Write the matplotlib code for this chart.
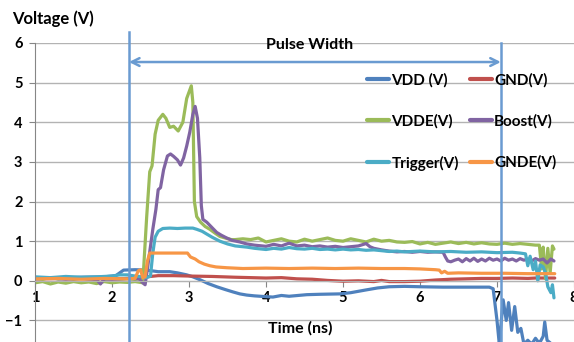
import matplotlib
matplotlib.use('Agg')
from matplotlib import pyplot as plt

plt.rcParams['font.family'] = ['Lato', 'DejaVu Sans']
plt.rcParams['font.weight'] = 'bold'

# ---- data (time in ns, volts) ----
t_vdd = [1.0, 1.3, 1.6, 1.9, 2.05, 2.1, 2.15, 2.3, 2.45, 2.6, 2.75, 2.85, 2.97, 3.05, 3.14,
         3.25, 3.36, 3.47, 3.57, 3.66, 3.75, 3.85, 4.0, 4.09, 4.2, 4.3, 4.53, 4.7, 4.96, 5.1,
         5.3, 5.45, 5.6, 5.8, 6.0, 6.3, 6.6, 6.9, 6.95, 7.0, 7.03, 7.08, 7.12, 7.15, 7.19,
         7.23, 7.27, 7.31, 7.35, 7.4, 7.45, 7.5, 7.55, 7.6, 7.62, 7.65, 7.7, 7.74]
v_vdd = [0.08, 0.07, 0.09, 0.1, 0.13, 0.2, 0.27, 0.28, 0.27, 0.23, 0.23, 0.2, 0.15, 0.1, 0.03,
         -0.07, -0.15, -0.22, -0.28, -0.33, -0.36, -0.38, -0.4, -0.41, -0.37, -0.39, -0.35, -0.34, -0.33, -0.3,
         -0.23, -0.18, -0.15, -0.14, -0.15, -0.16, -0.16, -0.16, -0.2, -1.0, -1.6, -0.48, -1.0, -0.55, -1.25,
         -0.65, -1.3, -1.2, -1.6, -1.5, -1.6, -1.45, -1.58, -1.4, -1.04, -1.5, -1.58, -1.6]

t_gnd = [1.0, 1.5, 2.0, 2.3, 2.45, 2.6, 2.8, 3.0, 3.3, 3.6, 4.0, 4.2, 4.4, 4.6, 4.8, 5.0,
         5.2, 5.4, 5.5, 5.6, 5.8, 6.0, 6.2, 6.4, 6.6, 6.8, 7.0, 7.2, 7.4, 7.5, 7.75]
v_gnd = [0.05, 0.06, 0.05, 0.06, 0.1, 0.13, 0.13, 0.12, 0.11, 0.09, 0.07, 0.08, 0.05, 0.04, 0.01, -0.01,
         0.0, -0.02, 0.01, -0.02, -0.02, -0.01, 0.02, 0.04, 0.05, 0.06, 0.06, 0.07, 0.06, 0.07, 0.07]

t_vdde = [1.0, 1.1, 1.2, 1.3, 1.4, 1.5, 1.6, 1.7, 1.8, 1.9, 2.0, 2.1, 2.2, 2.3, 2.4, 2.45,
          2.49, 2.52, 2.56, 2.6, 2.66, 2.7, 2.75, 2.8, 2.86, 2.92, 2.97, 3.03, 3.05, 3.07, 3.1,
          3.15, 3.21, 3.27, 3.34, 3.4, 3.47, 3.55, 3.6, 3.7, 3.8, 3.9, 4.0, 4.1, 4.2, 4.3,
          4.4, 4.5, 4.6, 4.7, 4.8, 4.9, 5.0, 5.1, 5.2, 5.3, 5.4, 5.5, 5.6, 5.7, 5.8, 5.9,
          6.0, 6.1, 6.2, 6.3, 6.4, 6.5, 6.6, 6.7, 6.8, 6.9, 7.0, 7.1, 7.2, 7.3, 7.4, 7.5,
          7.55, 7.58, 7.6, 7.63, 7.66, 7.69, 7.72, 7.74]
v_vdde = [-0.05, -0.02, -0.08, -0.03, -0.06, -0.02, -0.05, -0.03, -0.07, -0.02, -0.05, -0.03, -0.04, -0.02, -0.05, 1.6,
          2.75, 2.9, 3.7, 4.05, 4.2, 4.1, 3.87, 3.9, 3.78, 4.0, 4.6, 4.92, 4.5, 2.0, 1.62,
          1.48, 1.37, 1.3, 1.2, 1.12, 1.08, 1.04, 1.04, 1.06, 1.04, 1.08, 0.98, 1.02, 1.06, 1.0,
          0.98, 1.05, 1.0, 1.04, 1.08, 1.02, 1.0, 1.06, 1.02, 0.98, 1.05, 1.0, 1.02, 0.98, 0.97, 0.99,
          0.93, 0.97, 0.92, 0.95, 0.98, 0.94, 0.97, 0.93, 0.96, 0.93, 0.92, 0.95, 0.92, 0.94, 0.92, 0.9,
          0.9, 0.3, 0.85, 0.05, 0.82, 0.2, 0.88, 0.8]

t_boost = [1.0, 1.2, 1.4, 1.6, 1.8, 1.85, 1.9, 2.0, 2.2, 2.35, 2.4, 2.43, 2.46, 2.49, 2.53, 2.57,
           2.6, 2.63, 2.67, 2.72, 2.76, 2.8, 2.85, 2.89, 2.93, 2.97, 3.01, 3.05, 3.08, 3.11, 3.14,
           3.16, 3.18, 3.23, 3.27, 3.32, 3.36, 3.42, 3.49, 3.56, 3.66, 3.75, 3.85, 3.95, 4.0, 4.1,
           4.2, 4.3, 4.4, 4.5, 4.6, 4.7, 4.8, 4.9, 5.0, 5.1, 5.2, 5.3, 5.35, 5.4, 5.5, 5.6,
           5.7, 5.8, 5.9, 6.0, 6.1, 6.2, 6.3, 6.33, 6.36, 6.4, 6.45, 6.5, 6.55, 6.6, 6.65, 6.7,
           6.75, 6.8, 6.85, 6.9, 6.95, 7.0, 7.05, 7.1, 7.15, 7.2, 7.25, 7.3, 7.35, 7.4, 7.45,
           7.5, 7.55, 7.6, 7.65, 7.7, 7.74]
v_boost = [0.05, 0.07, 0.04, 0.06, 0.03, -0.08, 0.05, 0.04, 0.06, 0.05, -0.05, -0.1, 0.3, 0.73, 1.3, 1.8,
           2.3, 2.35, 2.8, 3.15, 3.2, 3.14, 3.05, 2.92, 3.1, 3.4, 3.75, 4.2, 4.4, 4.1, 3.1,
           1.9, 1.55, 1.48, 1.4, 1.3, 1.22, 1.15, 1.08, 1.02, 0.98, 0.93, 0.9, 0.88, 0.87, 0.92,
           0.88, 0.95, 0.88, 0.9, 0.86, 0.88, 0.85, 0.87, 0.84, 0.86, 0.88, 0.94, 0.86, 0.82, 0.78, 0.75,
           0.73, 0.74, 0.72, 0.74, 0.72, 0.73, 0.72, 0.6, 0.5, 0.48, 0.52, 0.55, 0.48, 0.56, 0.5, 0.57,
           0.49, 0.55, 0.5, 0.57, 0.52, 0.55, 0.5, 0.57, 0.52, 0.55, 0.5, 0.56, 0.52, 0.55, 0.5,
           0.56, 0.52, 0.55, 0.45, 0.55, 0.5]

t_trig = [1.0, 1.2, 1.4, 1.6, 1.8, 2.0, 2.1, 2.2, 2.3, 2.4, 2.45, 2.5, 2.53, 2.56, 2.6, 2.66,
          2.75, 2.85, 2.95, 3.05, 3.1, 3.17, 3.23, 3.3, 3.4, 3.5, 3.6, 3.75, 3.85, 4.0, 4.1,
          4.2, 4.3, 4.4, 4.5, 4.6, 4.7, 4.8, 4.9, 5.0, 5.1, 5.2, 5.3, 5.4, 5.5, 5.6, 5.7,
          5.8, 6.0, 6.2, 6.4, 6.6, 6.8, 7.0, 7.2, 7.3, 7.37, 7.4, 7.43, 7.47, 7.5, 7.53, 7.56,
          7.6, 7.63, 7.66, 7.7, 7.72, 7.74]
v_trig = [0.1, 0.08, 0.11, 0.09, 0.1, 0.12, 0.15, 0.15, 0.12, 0.1, 0.08, 0.12, 0.7, 1.1, 1.25, 1.32,
          1.33, 1.32, 1.33, 1.33, 1.3, 1.25, 1.18, 1.1, 1.0, 0.93, 0.88, 0.85, 0.82, 0.79, 0.82,
          0.8, 0.84, 0.81, 0.8, 0.82, 0.79, 0.8, 0.78, 0.8, 0.78, 0.79, 0.77, 0.78, 0.76, 0.74, 0.75,
          0.73, 0.75, 0.73, 0.74, 0.72, 0.73, 0.71, 0.72, 0.7, 0.68, 0.38, 0.62, 0.28, 0.5, 0.0, 0.4,
          0.35, 0.2, -0.15, -0.3, -0.1, -0.43]

t_gnde = [1.0, 1.3, 1.6, 1.9, 2.2, 2.3, 2.34, 2.37, 2.4, 2.43, 2.46, 2.49, 2.6, 2.7, 2.8, 2.9,
          2.98, 3.02, 3.08, 3.13, 3.2, 3.27, 3.35, 3.49, 3.7, 4.0, 4.3, 4.6, 4.9, 5.2, 5.5,
          5.8, 6.0, 6.2, 6.25, 6.28, 6.32, 6.36, 6.5, 6.8, 7.1, 7.4, 7.75]
v_gnde = [0.05, 0.06, 0.04, 0.06, 0.05, 0.06, 0.25, 0.28, 0.08, 0.1, 0.5, 0.7, 0.7, 0.7, 0.7, 0.7,
          0.7, 0.6, 0.55, 0.48, 0.42, 0.38, 0.35, 0.33, 0.31, 0.32, 0.31, 0.32, 0.31, 0.32, 0.31,
          0.31, 0.3, 0.28, 0.27, 0.2, 0.24, 0.19, 0.2, 0.19, 0.19, 0.18, 0.18]

series = [
    ('VDD (V)', t_vdd, v_vdd, '#4F81BD'),
    ('GND(V)', t_gnd, v_gnd, '#C0504D'),
    ('VDDE(V)', t_vdde, v_vdde, '#9BBB59'),
    ('Boost(V)', t_boost, v_boost, '#8064A2'),
    ('Trigger(V)', t_trig, v_trig, '#4BACC6'),
    ('GNDE(V)', t_gnde, v_gnde, '#F79646'),
]

pulse_start, pulse_end = 2.22, 7.05
yticks = [-1, 0, 1, 2, 3, 4, 5, 6]
xticks = [1, 2, 3, 4, 5, 6, 7, 8]

fig = plt.figure(figsize=(5.74, 3.42), dpi=100)
ax = fig.add_axes([35/574, 0, 539/574, 299/342])

lines = []
for lbl, t, v, c in series:
    p = ax.plot(t, v, color=c, lw=2.3, label=lbl, solid_capstyle='round', solid_joinstyle='round')
    lines.append(p[0])

ax.set_xlim(1, 8)
ax.set_ylim(-1.544, 6)
ax.set_yticks(yticks)
ax.set_xticks(xticks)
ax.yaxis.grid(True, color='#b3b3b3', lw=1)
ax.set_axisbelow(True)

for s in ['top', 'right']:
    ax.spines[s].set_visible(False)
ax.spines['left'].set_color('#868686')
ax.spines['bottom'].set_position(('data', 0))
ax.spines['bottom'].set_color('#b3b3b3')
ax.tick_params(axis='y', length=4, color='#868686', pad=5, labelsize=10.5)
ax.tick_params(axis='x', length=4, color='#868686', pad=3, labelsize=10.5)
for lab in ax.get_xticklabels() + ax.get_yticklabels():
    lab.set_fontweight('bold')

# pulse width markers
vcol = '#6a9bd1'
ax.plot([pulse_start, pulse_start], [-1.6, 6.28], color=vcol, lw=1.8, clip_on=False, zorder=5)
ax.plot([pulse_end, pulse_end], [-1.6, 6.0], color=vcol, lw=1.8, clip_on=False, zorder=5)
ax.annotate('', xy=(pulse_start, 5.52), xytext=(pulse_end, 5.52),
            arrowprops=dict(arrowstyle='<->', color=vcol, lw=1.8, shrinkA=0, shrinkB=0,
                            mutation_scale=14))
ax.text(4.57, 5.95, 'Pulse Width', ha='center', va='center',
        fontsize=11.5, fontweight='bold')

fig.text(12/574, 1 - 19/342, 'Voltage (V)', ha='left', va='center', fontsize=12, fontweight='bold')
fig.text(300/574, 1 - 328/342, 'Time (ns)', ha='center', va='center', fontsize=11.5, fontweight='bold')

# legend filled row by row like the original
order = [0, 2, 4, 1, 3, 5]
leg = ax.legend([lines[i] for i in order], [series[i][0] for i in order],
                ncol=2, loc='upper left', bbox_to_anchor=(367/574, 1 - 73/342),
                bbox_transform=fig.transFigure, frameon=False, fontsize=11,
                handlelength=1.45, handletextpad=0.15, columnspacing=0.7,
                labelspacing=1.75, borderpad=0, borderaxespad=0)
for txt in leg.get_texts():
    txt.set_fontweight('bold')
for ln in leg.get_lines():
    ln.set_linewidth(3)

plt.savefig('out.png', dpi=100)
